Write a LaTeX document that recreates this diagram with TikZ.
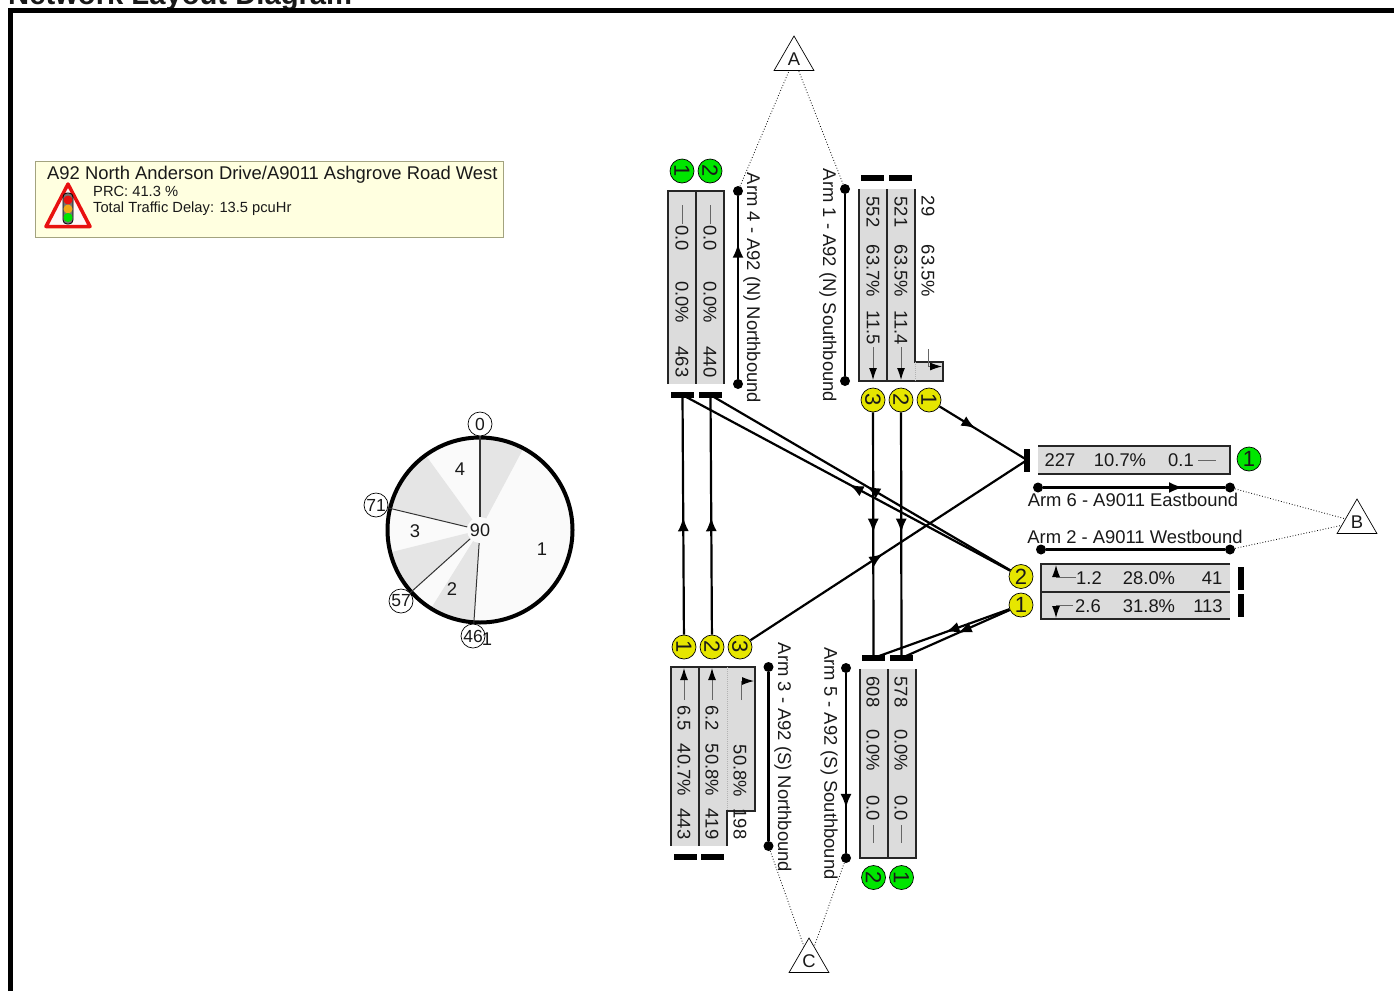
\documentclass[tikz,border=0pt]{standalone}
\usepackage{fontspec}
\setmainfont{Liberation Sans}
\usetikzlibrary{arrows.meta,decorations.markings,shapes.geometric}
\definecolor{laneGrey}{HTML}{DCDCDC}
\definecolor{signalYellow}{HTML}{E6E600}
\definecolor{signalGreen}{HTML}{00E600}
\definecolor{signalRed}{HTML}{E81010}
\definecolor{signalAmber}{HTML}{F0A818}
\definecolor{noteFill}{HTML}{FFFFE0}
\definecolor{noteEdge}{HTML}{A3A37F}
\tikzset{
  every node/.style = {
    inner sep = 0pt,
    text = black!90,
    font = \fontsize{18.4}{20}\selectfont
  },
  vtext/.style = {rotate = -90},
  small/.style = {
    anchor = west,
    font = \fontsize{14.7}{16}\selectfont
  },
  stream/.style = {
    shape = circle,
    draw,
    minimum size = 24pt,
    line width = 0.7pt,
    fill = signalYellow,
    font = \fontsize{22}{24}\selectfont
  },
  exitlane/.style = {stream, fill = signalGreen},
  tick/.style = {
    shape = circle,
    draw,
    fill = white,
    minimum size = 24pt,
    line width = 0.7pt,
    font = \fontsize{17.5}{18}\selectfont
  },
  armdot/.style = {
    shape = circle,
    fill = black,
    minimum size = 10pt
  },
  stopv/.style = {fill = black, minimum width = 5.5pt, minimum height = 23pt},
  stoph/.style = {fill = black, minimum width = 23pt, minimum height = 5.5pt},
  zone/.style = {
    shape = regular polygon,
    regular polygon sides = 3,
    draw,
    line width = 0.7pt,
    minimum size = 46pt
  },
  lanefill/.style = {fill = laneGrey},
  laneline/.style = {line width = 1.3pt, black!85},
  flare/.style = {densely dotted, line width = 1pt, black!30},
  armline/.style = {line width = 2.2pt, black},
  zoneline/.style = {dotted, line width = 0.8pt},
  flow/.style = {
    line width = 2.2pt,
    decoration = {markings, mark = at position #1 with {\arrow{Latex[length=14pt,width=11pt]}}},
    postaction = {decorate}
  },
  lanetick/.style = {line width = 1pt, black!60},
  lanearrow/.style = {line width = 1pt, black!60, -{Latex[length=12pt,width=8pt,black]}}
}
\begin{document}
\begin{tikzpicture}[x=1pt, y=-1pt]
    \useasboundingbox (0,0) rectangle (1394,991);

    % frame
    \node[anchor=base west, font=\fontsize{29.2}{30}\selectfont\bfseries] (title) at (8,4.5) {Network Layout Diagram};
    \draw[line width=5pt] (10.5,991) -- (10.5,10.5) -- (1394,10.5);

    % summary box
    \draw[fill=noteFill, draw=noteEdge, line width=1pt] (35,161) rectangle (503,237);
    \node[anchor=west] (junction) at (47,175) {A92 North Anderson Drive/A9011 Ashgrove Road West};
    \node[small] (prc) at (93,191) {PRC: 41.3 \%};
    \node[small] (delay) at (93,209) {Total Traffic Delay: 13.5 pcuHr};
    \draw[line join=round, line width=3.5pt, draw=signalRed, fill=white!97!red] (68,184) -- (90,226.5) -- (46,226.5) -- cycle;
    \draw[rounded corners=4pt, fill=black!55, line width=0.8pt] (63,193) rectangle (73,224);
    \fill[signalRed] (68,200) circle (4.5);
    \fill[signalAmber] (68,209) circle (4.5);
    \fill[signalGreen] (68,217.5) circle (4.5);

    % signal timing
    \begin{scope}[shift={(480,530)}, y=1pt]
        \fill[black!2] (0,0) circle (92.5);
        \fill[black!10] (0,0) -- (90:92.5) arc[start angle=90, end angle=62, radius=92.5] -- cycle;
        \fill[black!10] (0,0) -- (-94:92.5) arc[start angle=-94, end angle=-122, radius=92.5] -- cycle;
        \fill[black!10] (0,0) -- (-138:92.5) arc[start angle=-138, end angle=-166, radius=92.5] -- cycle;
        \fill[black!10] (0,0) -- (-194:92.5) arc[start angle=-194, end angle=-234, radius=92.5] -- cycle;
        \draw[line width=4pt] (0,0) circle (92.5);
    \end{scope}
    \node[shape=circle, fill=black!2, minimum size=26pt, font=\fontsize{18}{18}\selectfont] (cycle) at (480,530) {90};
    \node[tick] (t0) at (480,424) {0};
    \node[tick] (t71) at (376,505) {71};
    \node[tick] (t57) at (401,601) {57};
    \node[tick] (t46) at (473,636) {46};
    \draw[line width=1.2pt, black!80] (cycle) -- (t0);
    \draw[line width=1pt, black!80] (cycle) -- (t71);
    \draw[line width=1pt, black!80] (cycle) -- (t57);
    \draw[line width=1pt, black!80] (cycle) -- (t46);
    \node (stage4) at (460,469) {4};
    \node (stage3) at (415,531) {3};
    \node (stage2) at (452,589) {2};
    \node (stage1) at (542,549) {1};
    \node (stageOne) at (487,639) {1};

    % zones
    \node[zone] (zoneA) at (794,59) {A};
    \node[zone] (zoneB) at (1357,522) {B};
    \node[zone] (zoneC) at (809,961) {C};

    % arm 4
    \fill[lanefill] (668,191) rectangle (724,384);
    \draw[laneline] (668,384) -- (668,191) -- (724,191) -- (724,384);
    \draw[laneline] (696,191) -- (696,384);
    \draw[lanetick] (682,205) -- (682,224);
    \draw[lanetick] (710,205) -- (710,224);
    \node[vtext] (q41) at (682,238) {0.0};
    \node[vtext] (d41) at (682,302) {0.0\%};
    \node[vtext] (f41) at (682,362) {463};
    \node[vtext] (q42) at (710,238) {0.0};
    \node[vtext] (d42) at (710,302) {0.0\%};
    \node[vtext] (f42) at (710,362) {440};
    \node[exitlane, vtext] (x41) at (682,171) {1};
    \node[exitlane, vtext] (x42) at (710,171) {2};
    \node[stoph] (s41) at (682.5,395) {};
    \node[stoph] (s42) at (710.5,395) {};
    \node[armdot] (a4s) at (738,384) {};
    \node[armdot] (a4e) at (738,191) {};
    \draw[flow=0.74] (a4s) -- (a4e);
    \node[vtext] (arm4) at (752,288) {Arm 4 - A92 (N) Northbound};

    % arm 1
    \fill[lanefill] (859,189) rectangle (915,381);
    \fill[lanefill] (915,362) rectangle (943,381);
    \draw[laneline] (859,189) -- (859,381) -- (943,381) -- (943,362) -- (915,362) -- (915,189);
    \draw[laneline] (887,189) -- (887,381);
    \draw[flare] (915,362) -- (915,381);
    \node[vtext] (f11) at (873,212) {552};
    \node[vtext] (d11) at (873,271) {63.7\%};
    \node[vtext] (q11) at (873,328) {11.5};
    \node[vtext] (f12) at (901,212) {521};
    \node[vtext] (d12) at (901,271) {63.5\%};
    \node[vtext] (q12) at (901,328) {11.4};
    \node[vtext] (f13) at (928,206) {29};
    \node[vtext] (d13) at (928,271) {63.5\%};
    \draw[lanearrow] (873,347) -- (873,380);
    \draw[lanearrow] (901,347) -- (901,380);
    \draw[lanearrow] (928,349) |- (942,366.5);
    \node[stream, vtext] (y11) at (873,400) {3};
    \node[stream, vtext] (y12) at (901,400) {2};
    \node[stream, vtext] (y13) at (929,400) {1};
    \node[stoph] (s11) at (872.5,178) {};
    \node[stoph] (s12) at (900.5,178) {};
    \node[armdot] (a1s) at (845,189) {};
    \node[armdot] (a1e) at (845,381) {};
    \draw[armline] (a1s) -- (a1e);
    \node[vtext] (arm1) at (828,285.5) {Arm 1 - A92 (N) Southbound};

    % arm 3
    \fill[lanefill] (671,667) rectangle (727,846);
    \fill[lanefill] (727,667) rectangle (755,811);
    \draw[laneline] (671,846) -- (671,667) -- (755,667) -- (755,811) -- (727,811) -- (727,846);
    \draw[laneline] (699,667) -- (699,846);
    \draw[flare] (727,667) -- (727,811);
    \node[vtext] (q31) at (684,718) {6.5};
    \node[vtext] (d31) at (684,770) {40.7\%};
    \node[vtext] (f31) at (684,824) {443};
    \node[vtext] (q32) at (712,718) {6.2};
    \node[vtext] (d32) at (712,770) {50.8\%};
    \node[vtext] (f32) at (712,824) {419};
    \node[vtext] (d33) at (740,771) {50.8\%};
    \node[vtext] (f33) at (740,824) {198};
    \draw[lanearrow] (684,700) -- (684,668);
    \draw[lanearrow] (712,700) -- (712,668);
    \draw[lanearrow] (741,700) |- (754,681);
    \node[stream, vtext] (y31) at (684,647) {1};
    \node[stream, vtext] (y32) at (712,647) {2};
    \node[stream, vtext] (y33) at (740,647) {3};
    \node[stoph] (s31) at (685,857) {};
    \node[stoph] (s32) at (712.5,857) {};
    \node[armdot] (a3s) at (768.5,667) {};
    \node[armdot] (a3e) at (768.5,846) {};
    \draw[armline] (a3s) -- (a3e);
    \node[vtext] (arm3) at (783,757.5) {Arm 3 - A92 (S) Northbound};

    % arm 5
    \fill[lanefill] (860,669) rectangle (916,858);
    \draw[laneline] (860,669) -- (860,858) -- (916,858) -- (916,669);
    \draw[laneline] (888,669) -- (888,858);
    \node[vtext] (f51) at (873,692) {608};
    \node[vtext] (d51) at (873,750) {0.0\%};
    \node[vtext] (q51) at (873,808) {0.0};
    \node[vtext] (f52) at (901,692) {578};
    \node[vtext] (d52) at (901,750) {0.0\%};
    \node[vtext] (q52) at (901,808) {0.0};
    \draw[lanetick] (873,825) -- (873,843);
    \draw[lanetick] (901,825) -- (901,843);
    \node[exitlane, vtext] (x51) at (873.5,877.5) {2};
    \node[exitlane, vtext] (x52) at (901.5,877.5) {1};
    \node[stoph] (s51) at (873.5,658) {};
    \node[stoph] (s52) at (901.5,658) {};
    \node[armdot] (a5s) at (846,668) {};
    \node[armdot] (a5e) at (846,858) {};
    \draw[flow=0.75] (a5s) -- (a5e);
    \node[vtext] (arm5) at (829,763.5) {Arm 5 - A92 (S) Southbound};

    % arm 6
    \fill[lanefill] (1038,446) rectangle (1230,474);
    \draw[laneline] (1038,446) -- (1230,446) -- (1230,474) -- (1038,474);
    \node (f61) at (1060,460.5) {227};
    \node (d61) at (1120,460.5) {10.7\%};
    \node (q61) at (1181,460.5) {0.1};
    \draw[lanetick] (1198,460) -- (1216,460);
    \node[exitlane] (x61) at (1249,459) {1};
    \node[stopv] (s61) at (1027,460) {};
    \node[armdot] (a6s) at (1038,487.5) {};
    \node[armdot] (a6e) at (1230,487.5) {};
    \draw[flow=0.77] (a6s) -- (a6e);
    \node (arm6) at (1133,500) {Arm 6 - A9011 Eastbound};

    % arm 2
    \fill[lanefill] (1041,564) rectangle (1230,619);
    \draw[laneline] (1230,564) -- (1041,564) -- (1041,619) -- (1230,619);
    \draw[laneline] (1041,592) -- (1230,592);
    \node (q21) at (1089,578) {1.2};
    \node (d21) at (1149,578) {28.0\%};
    \node (f21) at (1212,578) {41};
    \node (q22) at (1088,606) {2.6};
    \node (d22) at (1149,606) {31.8\%};
    \node (f22) at (1208,606) {113};
    \draw[lanearrow] (1076,577) -| (1056,565);
    \draw[lanearrow] (1073,605) -| (1056,618);
    \node[stream] (y22) at (1021,576.5) {2};
    \node[stream] (y21) at (1021,605) {1};
    \node[stopv] (s21) at (1241,578) {};
    \node[stopv] (s22) at (1241,605.5) {};
    \node[armdot] (a2s) at (1041,549.5) {};
    \node[armdot] (a2e) at (1230,549.5) {};
    \draw[armline] (a2s) -- (a2e);
    \node (arm2) at (1135,537) {Arm 2 - A9011 Westbound};

    % zone links
    \draw[zoneline] (a4e) -- (zoneA);
    \draw[zoneline] (a1s) -- (zoneA);
    \draw[zoneline] (a6e) -- (zoneB);
    \draw[zoneline] (a2e) -- (zoneB);
    \draw[zoneline] (a3e) -- (zoneC);
    \draw[zoneline] (a5e) -- (zoneC);

    % traffic flows
    \draw[flow=0.49] (y31) -- (s41.center);
    \draw[flow=0.49] (y32) -- (s42.center);
    \draw[flow=0.49] (y11) -- (s51.center);
    \draw[flow=0.49] (y12) -- (s52.center);
    \draw[flow=0.41] (y13) -- (s61.center);
    \draw[flow=0.48] (y33) -- (s61.center);
    \draw[flow=0.49] (y22) -- (s41.center);
    \draw[flow=0.48] (y22) -- (s42.center);
    \draw[flow=0.47] (y21) -- (s51.center);
    \draw[flow=0.48] (y21) -- (s52.center);
\end{tikzpicture}
\end{document}
